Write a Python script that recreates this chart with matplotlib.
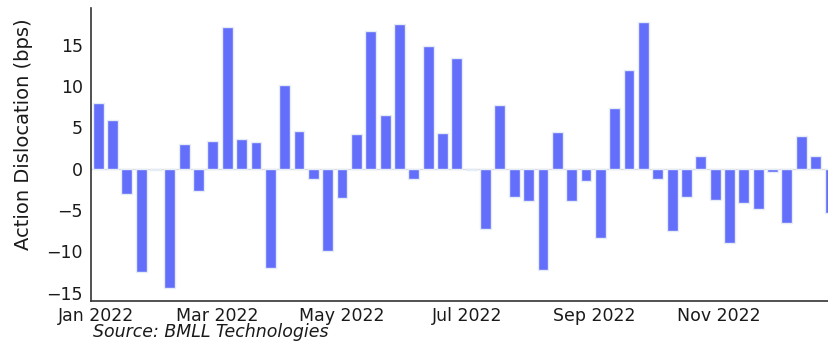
import pandas as pd
import matplotlib.pyplot as plt
import matplotlib.dates as mdates

# weekly action dislocation, week ending Sunday
week_start = "2022-01-02"
dislocation_bps = [
    8.0, 5.9, -3.1, -12.5, -0.2, -14.4, 2.95, -2.75, 3.3, 17.1,
    3.6, 3.2, -12.0, 10.15, 4.6, -1.3, -9.95, -3.5, 4.2, 16.7,
    6.5, 17.5, -1.25, 14.8, 4.3, 13.4, -0.2, -7.35, 7.7, -3.45,
    -3.95, -12.2, 4.4, -3.95, -1.5, -8.4, 7.35, 11.95, 17.8, -1.25,
    -7.5, -3.45, 1.55, -3.75, -9.05, -4.1, -4.9, -0.35, -6.55, 4.0,
    1.55, -5.4,
]
source_note = "Source: BMLL Technologies"

dates = pd.date_range(week_start, periods=len(dislocation_bps), freq="W")

fig = plt.figure(figsize=(8.29, 3.43), dpi=100)
ax = fig.add_axes([0.1098, 0.1224, 0.8902, 0.8534])

ax.axhline(0, color="#dcdcdc", lw=1, zorder=0)
ax.bar(dates, dislocation_bps, width=5.3, color="#636efa",
       edgecolor="#e5ecf6", linewidth=1, zorder=2)

ax.set_xlim(pd.Timestamp("2021-12-29 13:00"), pd.Timestamp("2022-12-24 13:00"))
ax.xaxis.set_major_locator(mdates.MonthLocator(bymonth=[1, 3, 5, 7, 9, 11]))
ax.xaxis.set_major_formatter(mdates.DateFormatter("%b %Y"))
ax.set_yticks([-15, -10, -5, 0, 5, 10, 15])

ax.tick_params(axis="both", length=0, labelsize=12.5, colors="#1a1a1a")
ax.tick_params(axis="y", pad=6)
ax.tick_params(axis="x", pad=4)

for side in ("top", "right"):
    ax.spines[side].set_visible(False)
for side in ("left", "bottom"):
    ax.spines[side].set_color("#333333")
    ax.spines[side].set_linewidth(1.2)

ax.set_ylabel("Action Dislocation (bps)", fontsize=14, color="#1a1a1a")
ax.yaxis.set_label_coords(-0.079, 0.57)

fig.text(93 / 829, 0.032, source_note, fontsize=12.5, style="italic",
         ha="left", va="center", color="#1a1a1a")

fig.savefig("out.png", dpi=100)
